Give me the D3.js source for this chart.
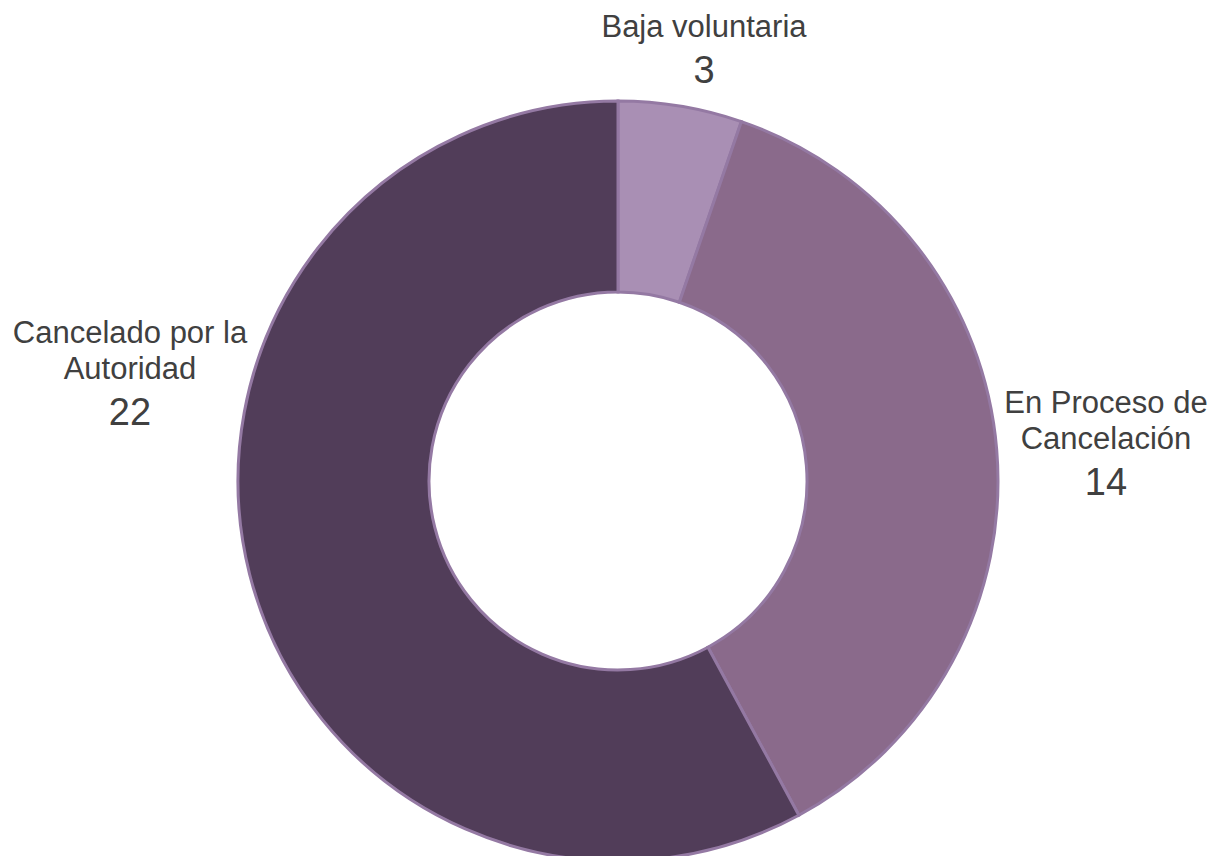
<!DOCTYPE html>
<html>
<head>
<meta charset="utf-8">
<script src="https://cdn.jsdelivr.net/npm/d3@7"></script>
<style>
  body { margin: 0; background: #fff; }
  text { font-family: "Liberation Sans", Arial, sans-serif; fill: #404040; }
</style>
</head>
<body>
<div id="chart"></div>
<script>
var categories = ["Baja voluntaria", "En Proceso de Cancelación", "Cancelado por la Autoridad"]
var labelLines = [["Baja voluntaria"], ["En Proceso de", "Cancelación"], ["Cancelado por la", "Autoridad"]]
var values = [3, 14, 22]
// slice sizes as drawn in the picture (the first slice is drawn smaller than its label says)
var sliceSizes = [2, 14, 22]
var colors = ["#A98FB4", "#8A6A8B", "#513D59"]

var width = 1214, height = 856
var cx = 618, cy = 481
var outerR = 380, innerR = 189

var svg = d3.select("#chart").append("svg")
  .attr("width", width)
  .attr("height", height)

var g = svg.append("g").attr("transform", "translate(" + cx + "," + cy + ")")

var pie = d3.pie().sort(null).value(function(d, i){ return sliceSizes[i] })
var arc = d3.arc().innerRadius(innerR).outerRadius(outerR)

var slices = pie(values)

g.selectAll("path")
  .data(slices)
  .enter()
  .append("path")
  .attr("d", arc)
  .style("fill", function(d, i){ return colors[i] })
  .style("stroke", "#9479A3")
  .style("stroke-width", 3)

// label positions (center x, first baseline y)
var labelPos = [[704, 37], [1106, 413], [130, 343]]
var lineStep = 36

slices.forEach(function(d, i){
  var lines = labelLines[i]
  var t = svg.append("g")
  lines.forEach(function(line, k){
    t.append("text")
      .attr("x", labelPos[i][0])
      .attr("y", labelPos[i][1] + k * lineStep)
      .attr("text-anchor", "middle")
      .style("font-size", "31px")
      .text(line)
  })
  t.append("text")
    .attr("x", labelPos[i][0])
    .attr("y", labelPos[i][1] + (lines.length - 1) * lineStep + 46)
    .attr("text-anchor", "middle")
    .style("font-size", "38px")
    .text(values[i])
})
</script>
</body>
</html>
